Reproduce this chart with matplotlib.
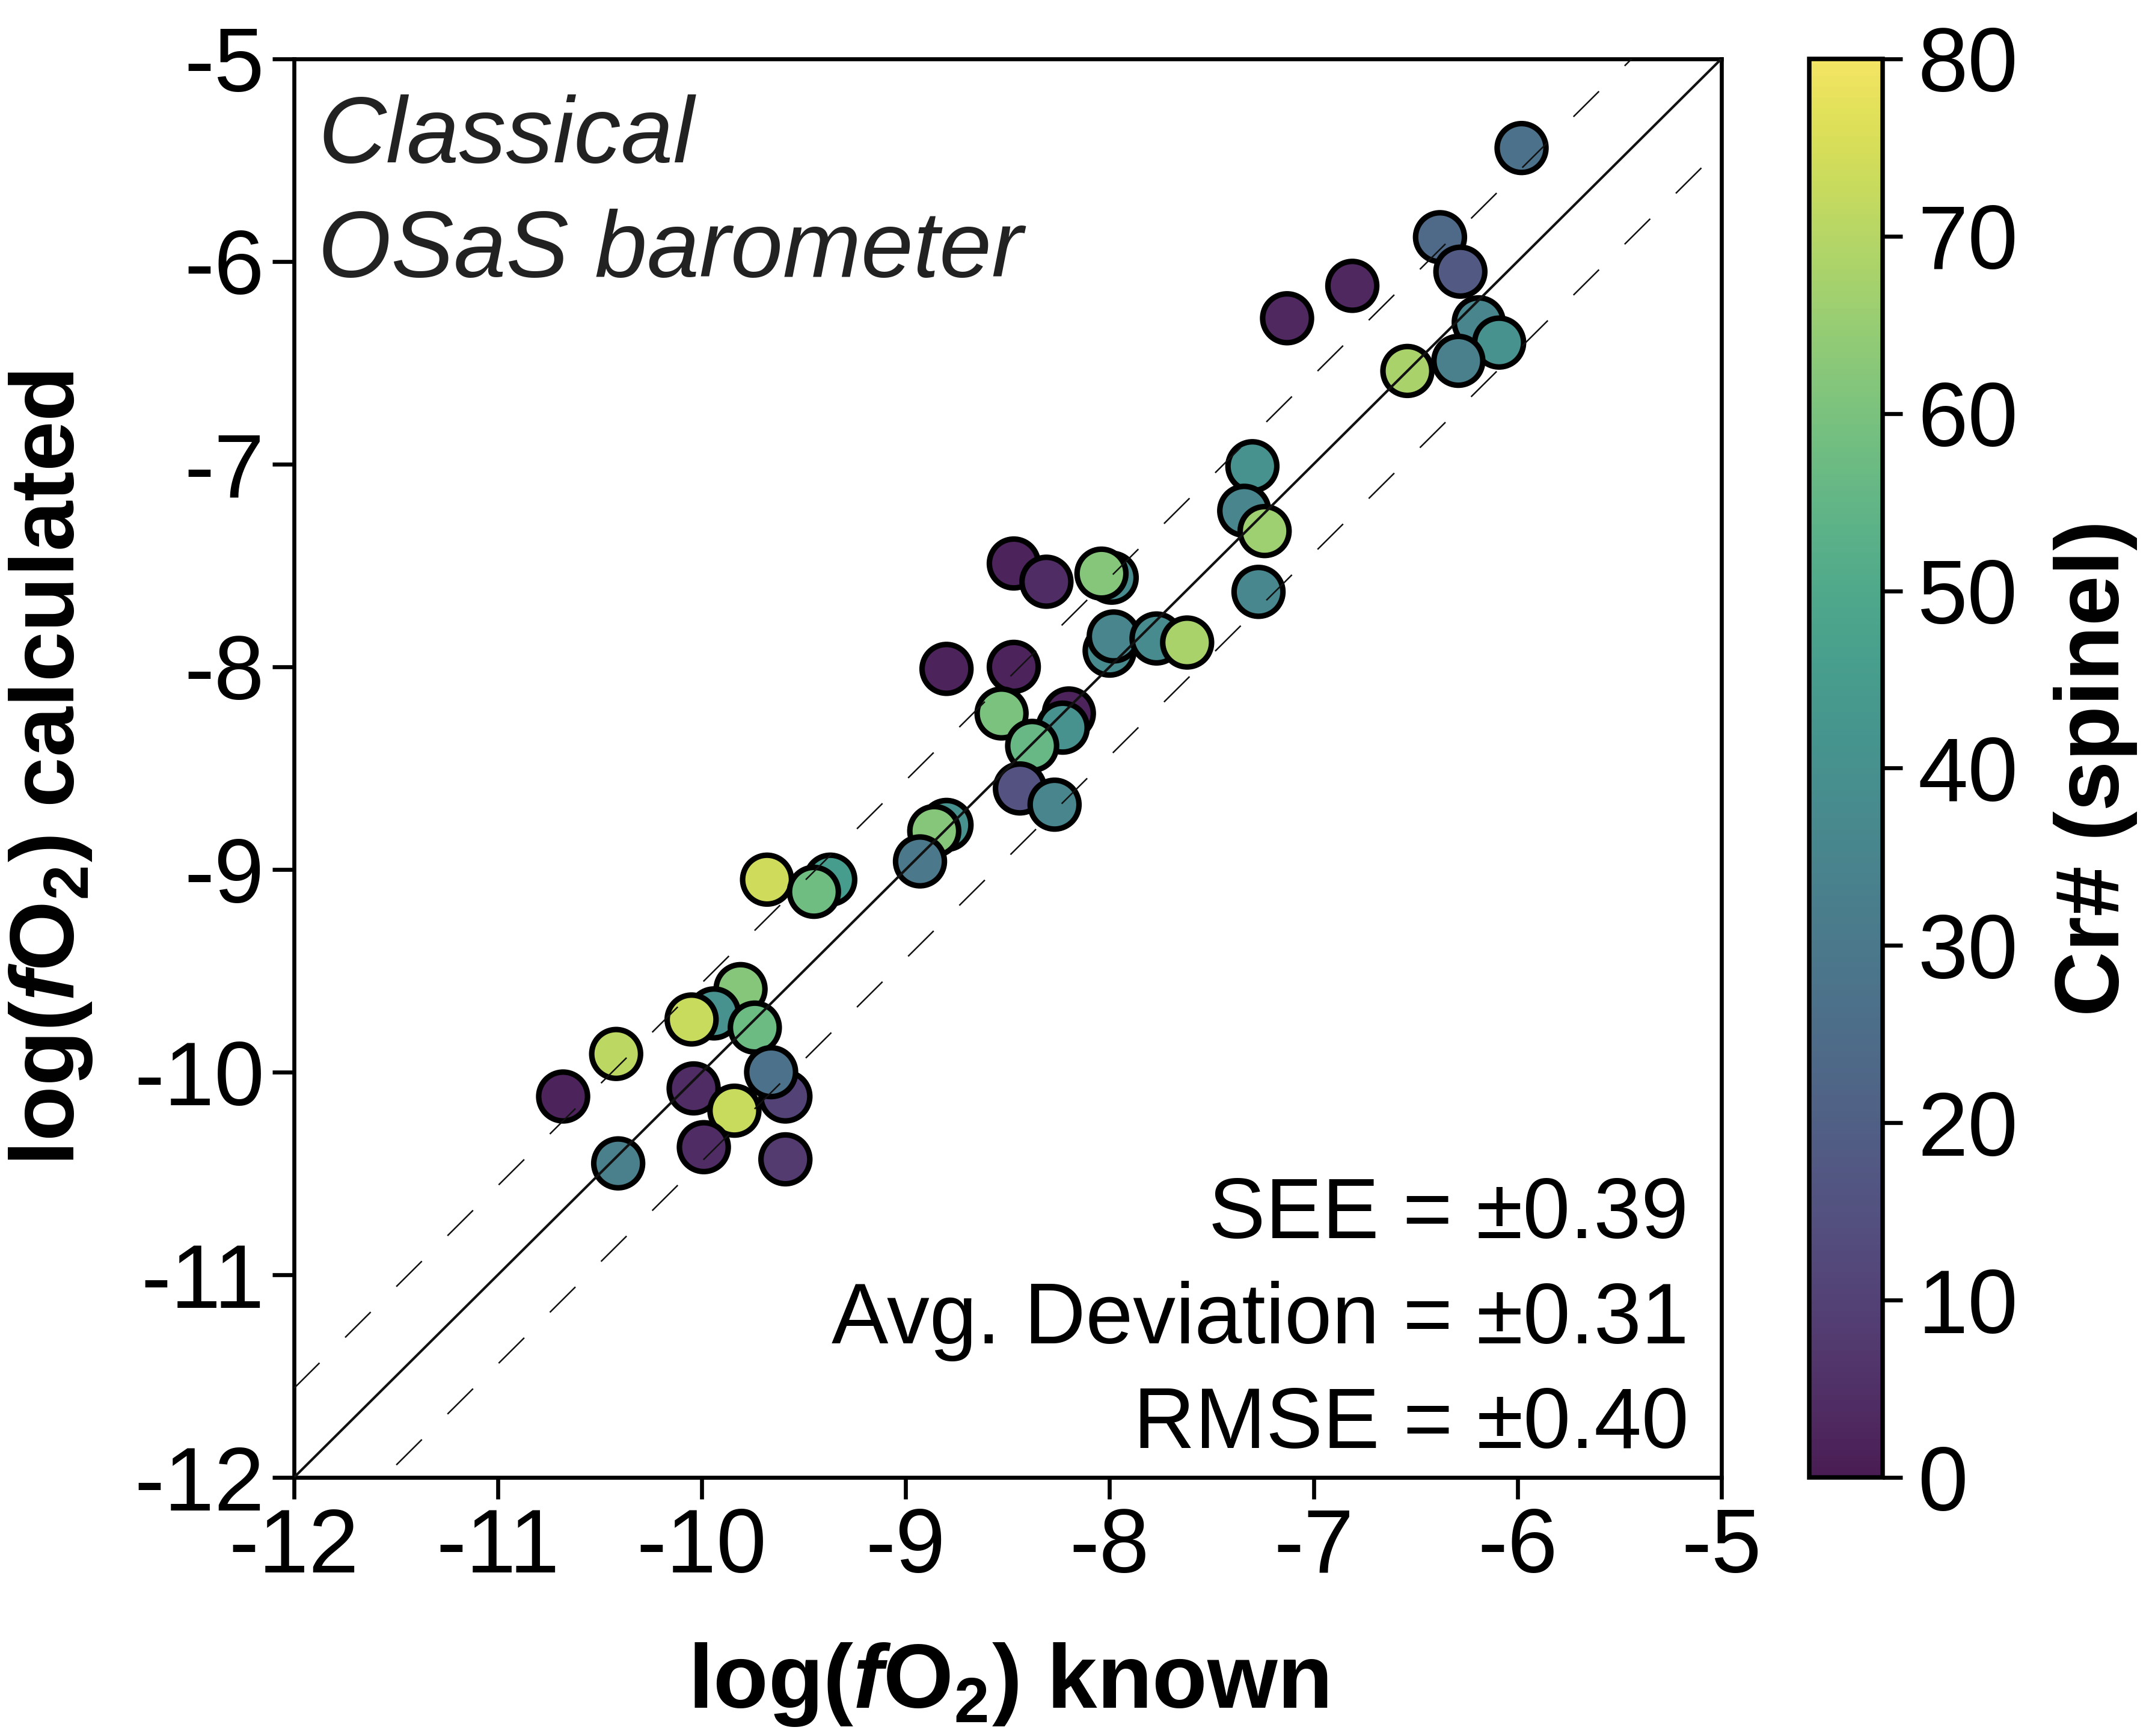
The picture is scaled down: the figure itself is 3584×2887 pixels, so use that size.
import numpy as np
import matplotlib.pyplot as plt
import matplotlib as mpl
from matplotlib.colors import ListedColormap

plt.rcParams['font.family'] = ['Liberation Sans', 'DejaVu Sans']
plt.rcParams['axes.unicode_minus'] = False
plt.rcParams['mathtext.fontset'] = 'custom'
plt.rcParams['mathtext.rm'] = 'Liberation Sans:bold'
plt.rcParams['mathtext.it'] = 'Liberation Sans:bold:italic'
plt.rcParams['mathtext.bf'] = 'Liberation Sans:bold'

# log(fO2) known, log(fO2) calculated, Cr# of spinel
fo2_known = [-5.98, -6.38, -6.28, -6.81, -7.13, -6.19, -6.09, -6.29, -6.54,
             -7.30, -7.34, -7.24, -7.27, -8.47, -8.31, -7.99, -8.04, -8.00,
             -7.98, -7.77, -7.62, -8.80, -8.47, -8.20, -8.23, -8.53, -8.38,
             -8.44, -8.27, -8.80, -8.86, -8.93, -9.68, -9.37, -9.45, -9.81,
             -9.94, -10.05, -9.74, -10.42, -9.59, -9.66, -10.04, -10.68, -9.84,
             -9.99, -9.59, -10.41]
fo2_calc = [-5.44, -5.88, -6.05, -6.12, -6.28, -6.30, -6.40, -6.49, -6.54,
            -7.01, -7.23, -7.33, -7.63, -7.49, -7.58, -7.56, -7.54, -7.92,
            -7.85, -7.86, -7.88, -8.01, -8.00, -8.23, -8.30, -8.23, -8.39,
            -8.60, -8.68, -8.78, -8.81, -8.96, -9.05, -9.05, -9.11, -9.59,
            -9.71, -9.74, -9.78, -9.91, -10.12, -10.00, -10.08, -10.12, -10.19,
            -10.37, -10.43, -10.45]
cr_num = [27, 24, 18, 3, 3, 35, 40, 33, 68,
          40, 35, 66, 36, 2, 4, 38, 62, 38,
          35, 38, 68, 2, 2, 2, 40, 60, 56,
          15, 35, 40, 62, 30, 74, 45, 58, 62,
          40, 73, 57, 71, 10, 27, 4, 2, 73,
          4, 8, 33]

see = 0.39
avg_dev = 0.31
rmse = 0.40
band = 0.44

# viridis, a little washed out like the printed figure
vir = mpl.colormaps['viridis'](np.linspace(0, 1, 256))
lum = (0.299 * vir[:, 0] + 0.587 * vir[:, 1] + 0.114 * vir[:, 2])[:, None]
muted = vir.copy()
muted[:, :3] = 0.66 * vir[:, :3] + 0.26 * lum + 0.08
cmap = ListedColormap(muted)

fig = plt.figure(figsize=(3584 / 300, 2887 / 300), dpi=300)
ax = fig.add_axes([0.1364, 0.1489, 0.6624, 0.8172])
cax = fig.add_axes([0.8396, 0.1489, 0.034, 0.8172])

sc = ax.scatter(fo2_known, fo2_calc, c=cr_num, cmap=cmap, vmin=0, vmax=80,
                s=380, edgecolors='black', linewidths=2.2, zorder=3)

lims = np.array([-12, -5])
ax.plot(lims, lims, color='#111111', lw=1.0, zorder=4)
ax.plot(lims, lims + band, color='#111111', lw=0.6, linestyle=(0, (24, 24)), zorder=4)
ax.plot(lims, lims - band, color='#111111', lw=0.6, linestyle=(0, (24, 24)), zorder=4)

ax.set_xlim(-12, -5)
ax.set_ylim(-12, -5)
ax.set_xticks(range(-12, -4))
ax.set_yticks(range(-12, -4))
ax.tick_params(labelsize=36, length=8.7, width=1.6, pad=3)
for s in ax.spines.values():
    s.set_linewidth(1.6)

ax.set_xlabel(r'log($\mathit{f}$O$_\mathrm{2}$) known', fontsize=36, fontweight='bold', labelpad=20)
ax.set_ylabel(r'log($\mathit{f}$O$_\mathrm{2}$) calculated', fontsize=36, fontweight='bold', labelpad=16)

ax.text(0.017, 0.975, 'Classical\nOSaS barometer', transform=ax.transAxes,
        fontsize=37.5, fontstyle='italic', ha='left', va='top', linespacing=1.4, color='#222222')
ax.text(0.977, 0.008,
        f'SEE = \u00b1{see:.2f}\nAvg. Deviation = \u00b1{avg_dev:.2f}\nRMSE = \u00b1{rmse:.2f}',
        transform=ax.transAxes, fontsize=34, ha='right', va='bottom',
        multialignment='right', linespacing=1.39)

cb = fig.colorbar(sc, cax=cax)
cb.set_ticks(range(0, 81, 10))
cb.ax.tick_params(labelsize=36, length=8, width=1.6, pad=6)
cb.outline.set_linewidth(1.8)
cb.set_label('Cr# (spinel)', fontsize=36, fontweight='bold', labelpad=14)

fig.savefig('out.png', dpi=300)
